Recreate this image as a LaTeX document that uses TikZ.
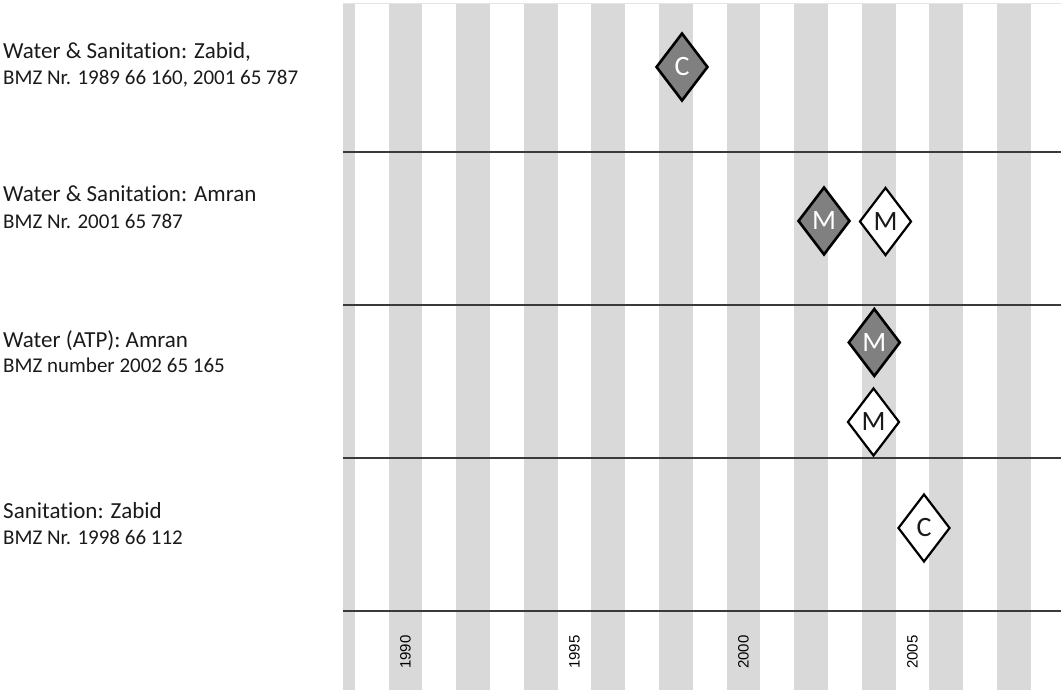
\documentclass[tikz,border=0pt]{standalone}
\usepackage{fontspec}
\setmainfont{Carlito}[Ligatures=NoCommon]
\newfontfamily\axisfont{Liberation Sans}
\usetikzlibrary{shapes.geometric}
\definecolor{Band}{HTML}{D9D9D9}
\definecolor{Rule}{HTML}{3A3A3A}
\definecolor{Dark}{HTML}{808080}
\definecolor{Ink}{HTML}{1A1A1A}

\begin{document}
\begin{tikzpicture}[x=1pt,y=-1pt,
  band/.style={fill=Band},
  rowline/.style={draw=Rule,line width=1.8pt},
  title/.style={anchor=base west,inner sep=0pt,font=\fontsize{23}{27}\selectfont,text=Ink},
  ref/.style={anchor=base west,inner sep=0pt,font=\fontsize{21}{25}\selectfont,text=Ink},
  year/.style={rotate=90,inner sep=0pt,font=\axisfont\fontsize{15}{17}\selectfont,text=black},
  dmark/.style={diamond,draw=black,line width=2.6pt,fill=Dark,minimum width=52pt,minimum height=68pt,inner sep=0pt,text=white,font=\fontsize{28}{30}\selectfont},
  wmark/.style={dmark,fill=white,text=Ink,line width=2.2pt}
]
\useasboundingbox (0,0) rectangle (1061,690);

% year bands (even years grey)
\fill[band] (343,3) rectangle (354.8,690);
\fill[band] (388.6,3) rectangle (422.4,690);
\fill[band] (456.2,3) rectangle (490.0,690);
\fill[band] (523.8,3) rectangle (557.6,690);
\fill[band] (591.4,3) rectangle (625.2,690);
\fill[band] (659.0,3) rectangle (692.8,690);
\fill[band] (726.6,3) rectangle (760.4,690);
\fill[band] (794.2,3) rectangle (828.0,690);
\fill[band] (861.8,3) rectangle (895.6,690);
\fill[band] (929.4,3) rectangle (963.2,690);
\fill[band] (997.0,3) rectangle (1030.8,690);
\draw[draw=Band!70,line width=0.8pt] (343,3) -- (1061,3);

% row separators
\draw[rowline] (343,152) -- (1061,152);
\draw[rowline] (343,305) -- (1061,305);
\draw[rowline] (343,458) -- (1061,458);
\draw[rowline] (343,611) -- (1061,611);

% project labels
\node[title] (zabid) at (3,59) {Water \& Sanitation: Zabid,};
\node[ref] (zabidno) at (3,85) {BMZ Nr. 1989 66 160, 2001 65 787};
\node[title] (amran) at (3,202) {Water \& Sanitation: Amran};
\node[ref] (amranno) at (3,229) {BMZ Nr. 2001 65 787};
\node[title] (atp) at (3,347) {Water (ATP): Amran};
\node[ref] (atpno) at (3,372) {BMZ number 2002 65 165};
\node[title] (sanit) at (3,518) {Sanitation: Zabid};
\node[ref] (sanitno) at (3,544) {BMZ Nr. 1998 66 112};

% events
\node[dmark] (c1) at (682,67) {C};
\node[dmark] (m2a) at (824,221) {M};
\node[wmark] (m2b) at (885.5,221.5) {M};
\node[dmark] (m3a) at (874.3,342.5) {M};
\node[wmark] (m3b) at (873.5,422) {M};
\node[wmark] (c4) at (924,528) {C};

% time axis
\node[year] (y1990) at (405.5,652) {1990};
\node[year] (y1995) at (574.5,652) {1995};
\node[year] (y2000) at (743.5,652) {2000};
\node[year] (y2005) at (912.5,652) {2005};
\end{tikzpicture}
\end{document}
